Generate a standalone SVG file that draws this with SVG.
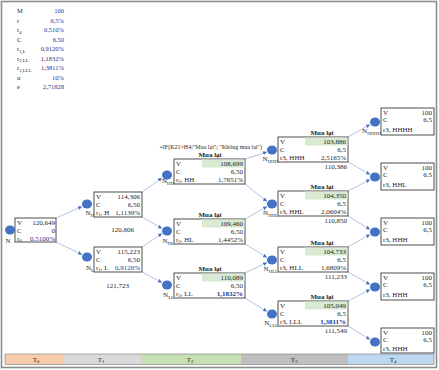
<svg xmlns="http://www.w3.org/2000/svg" width="439" height="370" viewBox="0 0 439 370">
<style>
.bg{fill:#fff}
.fr{fill:none;stroke:#8c8c8c;stroke-width:1.6}
.b{fill:#fff;stroke:#3a3a3a;stroke-width:0.9}
.t{font-family:"Liberation Serif","Times New Roman",serif;font-size:7px;fill:#1f1f1f}
.p{font-size:6.5px}
.e{text-anchor:end}
.m{text-anchor:middle}
.bl{fill:#2e3192}
.bd{font-weight:bold}
.hl{fill:#d9ead3}
.nd{fill:#4472c4}
.cn{stroke:#9fb5da;stroke-width:0.8;fill:none;marker-end:url(#ah)}
.sb{font-size:4.8px}
</style>
<defs>
<marker id="ah" markerWidth="5" markerHeight="5" refX="4" refY="2" orient="auto" markerUnits="userSpaceOnUse">
<path d="M0,0 L4,2 L0,4 Z" fill="#4472c4"/>
</marker>
</defs>
<rect class="bg" x="0" y="0" width="439" height="370"/>
<rect class="fr" x="1.5" y="1.5" width="435" height="366"/>

<g id="params" class="t p">
<text x="17" y="13">M</text><text class="e bl" x="64" y="13">100</text>
<text x="17" y="22.5">r</text><text class="e bl" x="64" y="22.5">6,5%</text>
<text x="17" y="32">r<tspan class="sb" dy="1.5">0</tspan></text><text class="e bl" x="64" y="32">0,510%</text>
<text x="17" y="41.5">C</text><text class="e bl" x="64" y="41.5">6,50</text>
<text x="17" y="51">r<tspan class="sb" dy="1.5">1,L</tspan></text><text class="e bl" x="64" y="51">0,9120%</text>
<text x="17" y="60.5">r<tspan class="sb" dy="1.5">2,LL</tspan></text><text class="e bl" x="64" y="60.5">1,1832%</text>
<text x="17" y="70">r<tspan class="sb" dy="1.5">3,LLL</tspan></text><text class="e bl" x="64" y="70">1,3811%</text>
<text x="17" y="79.5">α</text><text class="e bl" x="64" y="79.5">10%</text>
<text x="17" y="89">e</text><text class="e bl" x="64" y="89">2,71828</text>
</g>

<g id="connectors">
<line class="cn" x1="56" y1="218" x2="82" y2="206.5"/>
<line class="cn" x1="56" y1="242" x2="82" y2="254.5"/>
<line class="cn" x1="142" y1="192" x2="162" y2="178"/>
<line class="cn" x1="142" y1="217" x2="162" y2="228.5"/>
<line class="cn" x1="142" y1="247" x2="162" y2="233.5"/>
<line class="cn" x1="142" y1="272" x2="162" y2="282.5"/>
<line class="cn" x1="245" y1="159" x2="267" y2="152"/>
<line class="cn" x1="245" y1="184" x2="267" y2="201.5"/>
<line class="cn" x1="245" y1="219" x2="267" y2="206.5"/>
<line class="cn" x1="245" y1="244" x2="267" y2="257.5"/>
<line class="cn" x1="245" y1="273" x2="267" y2="262.5"/>
<line class="cn" x1="245" y1="298" x2="267" y2="311.5"/>
<line class="cn" x1="348" y1="137" x2="370" y2="124.5"/>
<line class="cn" x1="348" y1="162" x2="370" y2="174.5"/>
<line class="cn" x1="348" y1="191" x2="370" y2="179.5"/>
<line class="cn" x1="348" y1="216" x2="370" y2="229.5"/>
<line class="cn" x1="348" y1="247" x2="370" y2="234.5"/>
<line class="cn" x1="348" y1="272" x2="370" y2="284.5"/>
<line class="cn" x1="348" y1="301" x2="370" y2="289.5"/>
<line class="cn" x1="348" y1="326" x2="370" y2="339.5"/>
</g>

<g id="n0" class="t">
<rect class="b" x="15" y="218" width="41" height="24"/>
<text x="17" y="224.5">V</text><text class="e" x="55" y="224.5">120,649</text>
<text x="17" y="232.5">C</text><text class="e" x="55" y="232.5">0</text>
<text x="17" y="240.5">r<tspan class="sb" dy="1.5">0</tspan></text><text class="e bl" x="55" y="240.5">0,5100%</text>
<ellipse class="nd" cx="10" cy="230" rx="5" ry="4.5"/>
<text class="m" x="8" y="243">N</text>
</g>

<g id="nH" class="t">
<rect class="b" x="94" y="192" width="48" height="25"/>
<text x="96" y="198.5">V</text><text class="e" x="140" y="198.5">114,306</text>
<text x="96" y="206.5">C</text><text class="e" x="140" y="206.5">6,50</text>
<text x="96" y="214.5">r<tspan class="sb" dy="1.5">1</tspan><tspan dy="-1.5">, H</tspan></text><text class="e" x="140" y="214.5">1,1139%</text>
<ellipse class="nd" cx="87" cy="204" rx="5" ry="4.5"/>
<text class="e" x="94" y="215">N<tspan class="sb" dy="1.5">H</tspan></text>
<text class="e" x="134" y="232">120,806</text>
</g>

<g id="nL" class="t">
<rect class="b" x="94" y="247" width="48" height="25"/>
<text x="96" y="253.5">V</text><text class="e" x="140" y="253.5">115,223</text>
<text x="96" y="261.5">C</text><text class="e" x="140" y="261.5">6,50</text>
<text x="96" y="269.5">r<tspan class="sb" dy="1.5">1</tspan><tspan dy="-1.5">, L</tspan></text><text class="e bl" x="140" y="269.5">0,9120%</text>
<ellipse class="nd" cx="87" cy="257" rx="5" ry="4.5"/>
<text class="e" x="94" y="270">N<tspan class="sb" dy="1.5">L</tspan></text>
<text class="e" x="129" y="288">121,723</text>
</g>

<g id="nHH" class="t">
<text x="262" y="149" class="e" style="font-size:6px">=IF(K21&gt;H4;"Mua lại"; "Không mua lại")</text>
<text class="m bd" x="210" y="156.5">Mua lại</text>
<rect class="b" x="174" y="159" width="71" height="25"/>
<rect class="hl" x="202" y="159.5" width="42.5" height="8"/>
<text x="176" y="165.5">V</text><text class="e" x="243" y="165.5">108,699</text>
<text x="176" y="173.5">C</text><text class="e" x="243" y="173.5">6,50</text>
<text x="176" y="181.5">r<tspan class="sb" dy="1.5">2</tspan><tspan dy="-1.5">, HH</tspan></text><text class="e" x="243" y="181.5">1,7651%</text>
<ellipse class="nd" cx="167" cy="175" rx="5" ry="4.5"/>
<text class="e" x="174" y="183">N<tspan class="sb" dy="1.5">HH</tspan></text>
</g>

<g id="nHL" class="t">
<text class="m bd" x="210" y="216.5">Mua lại</text>
<rect class="b" x="174" y="219" width="71" height="25"/>
<rect class="hl" x="202" y="219.5" width="42.5" height="8"/>
<text x="176" y="225.5">V</text><text class="e" x="243" y="225.5">109,460</text>
<text x="176" y="233.5">C</text><text class="e" x="243" y="233.5">6,50</text>
<text x="176" y="241.5">r<tspan class="sb" dy="1.5">2</tspan><tspan dy="-1.5">, HL</tspan></text><text class="e" x="243" y="241.5">1,4452%</text>
<ellipse class="nd" cx="167" cy="231" rx="5" ry="4.5"/>
<text class="e" x="174" y="243">N<tspan class="sb" dy="1.5">HL</tspan></text>
</g>

<g id="nLL" class="t">
<text class="m bd" x="210" y="270.5">Mua lại</text>
<rect class="b" x="174" y="273" width="71" height="25"/>
<rect class="hl" x="202" y="273.5" width="42.5" height="8"/>
<text x="176" y="279.5">V</text><text class="e" x="243" y="279.5">110,089</text>
<text x="176" y="287.5">C</text><text class="e" x="243" y="287.5">6,50</text>
<text x="176" y="295.5">r<tspan class="sb" dy="1.5">2</tspan><tspan dy="-1.5">, LL</tspan></text><text class="e bl bd" x="243" y="295.5">1,1832%</text>
<ellipse class="nd" cx="167" cy="285" rx="5" ry="4.5"/>
<text class="e" x="174" y="297">N<tspan class="sb" dy="1.5">LL</tspan></text>
</g>

<g id="nHHH" class="t">
<text class="m bd" x="322" y="134.5">Mua lại</text>
<rect class="b" x="278" y="137" width="70" height="25"/>
<rect class="hl" x="305" y="137.5" width="42.5" height="8"/>
<text x="280" y="143.5">V</text><text class="e" x="346" y="143.5">103,886</text>
<text x="280" y="151.5">C</text><text class="e" x="346" y="151.5">6,5</text>
<text x="280" y="159.5">r3, HHH</text><text class="e" x="346" y="159.5">2,5165%</text>
<ellipse class="nd" cx="272" cy="150" rx="5" ry="4.5"/>
<text class="e" x="278" y="161">N<tspan class="sb" dy="1.5">HHH</tspan></text>
<text class="e" x="347" y="169">110,386</text>
</g>

<g id="nHHL" class="t">
<text class="m bd" x="322" y="188.5">Mua lại</text>
<rect class="b" x="278" y="191" width="70" height="25"/>
<rect class="hl" x="305" y="191.5" width="42.5" height="8"/>
<text x="280" y="197.5">V</text><text class="e" x="346" y="197.5">104,350</text>
<text x="280" y="205.5">C</text><text class="e" x="346" y="205.5">6,5</text>
<text x="280" y="213.5">r3, HHL</text><text class="e" x="346" y="213.5">2,0604%</text>
<ellipse class="nd" cx="272" cy="204" rx="5" ry="4.5"/>
<text class="e" x="278" y="215">N<tspan class="sb" dy="1.5">HHL</tspan></text>
<text class="e" x="347" y="223">110,850</text>
</g>

<g id="nHLL" class="t">
<text class="m bd" x="322" y="244.5">Mua lại</text>
<rect class="b" x="278" y="247" width="70" height="25"/>
<rect class="hl" x="305" y="247.5" width="42.5" height="8"/>
<text x="280" y="253.5">V</text><text class="e" x="346" y="253.5">104,733</text>
<text x="280" y="261.5">C</text><text class="e" x="346" y="261.5">6,5</text>
<text x="280" y="269.5">r3, HLL</text><text class="e" x="346" y="269.5">1,6809%</text>
<ellipse class="nd" cx="272" cy="260" rx="5" ry="4.5"/>
<text class="e" x="278" y="271">N<tspan class="sb" dy="1.5">HLL</tspan></text>
<text class="e" x="347" y="279">111,233</text>
</g>

<g id="nLLL" class="t">
<text class="m bd" x="322" y="298.5">Mua lại</text>
<rect class="b" x="278" y="301" width="70" height="25"/>
<rect class="hl" x="305" y="301.5" width="42.5" height="8"/>
<text x="280" y="307.5">V</text><text class="e" x="346" y="307.5">105,049</text>
<text x="280" y="315.5">C</text><text class="e" x="346" y="315.5">6,5</text>
<text x="280" y="323.5">r3, LLL</text><text class="e bl bd" x="346" y="323.5">1,3811%</text>
<ellipse class="nd" cx="272" cy="314" rx="5" ry="4.5"/>
<text class="e" x="278" y="325">N<tspan class="sb" dy="1.5">LLL</tspan></text>
<text class="e" x="347" y="333">111,549</text>
</g>

<g id="nHHHH" class="t">
<rect class="b" x="381" y="108" width="53" height="27"/>
<text x="383" y="114.5">V</text><text class="e" x="432" y="114.5">100</text>
<text x="383" y="121.5">C</text><text class="e" x="432" y="121.5">6,5</text>
<text x="383" y="132">r3, HHHH</text>
<ellipse class="nd" cx="375" cy="122" rx="5" ry="4.5"/>
<text class="e" x="381" y="133">N<tspan class="sb" dy="1.5">HHHH</tspan></text>
</g>

<g id="nT4b" class="t">
<rect class="b" x="381" y="163" width="53" height="27"/>
<text x="383" y="169.5">V</text><text class="e" x="432" y="169.5">100</text>
<text x="383" y="176.5">C</text><text class="e" x="432" y="176.5">6,5</text>
<text x="383" y="187">r3, HHL</text>
<ellipse class="nd" cx="375" cy="177" rx="5" ry="4.5"/>
</g>

<g id="nT4c" class="t">
<rect class="b" x="381" y="218" width="53" height="27"/>
<text x="383" y="224.5">V</text><text class="e" x="432" y="224.5">100</text>
<text x="383" y="231.5">C</text><text class="e" x="432" y="231.5">6,5</text>
<text x="383" y="242">r3, HHH</text>
<ellipse class="nd" cx="375" cy="232" rx="5" ry="4.5"/>
</g>

<g id="nT4d" class="t">
<rect class="b" x="381" y="273" width="53" height="27"/>
<text x="383" y="279.5">V</text><text class="e" x="432" y="279.5">100</text>
<text x="383" y="286.5">C</text><text class="e" x="432" y="286.5">6,5</text>
<text x="383" y="297">r3, HHH</text>
<ellipse class="nd" cx="375" cy="287" rx="5" ry="4.5"/>
</g>

<g id="nT4e" class="t">
<rect class="b" x="381" y="328" width="53" height="25"/>
<text x="383" y="334.5">V</text><text class="e" x="432" y="334.5">100</text>
<text x="383" y="341.5">C</text><text class="e" x="432" y="341.5">6,5</text>
<text x="383" y="350.5">r3, HHH</text>
<ellipse class="nd" cx="375" cy="342" rx="5" ry="4.5"/>
</g>

<g id="timeline" class="t">
<rect x="5" y="354" width="59" height="10.5" fill="#f8cbad"/>
<rect x="64" y="354" width="77" height="10.5" fill="#d9d9d9"/>
<rect x="141" y="354" width="100" height="10.5" fill="#c6e0b4"/>
<rect x="241" y="354" width="107" height="10.5" fill="#bfbfbf"/>
<rect x="348" y="354" width="86" height="10.5" fill="#bdd7ee"/>
<rect x="5" y="354" width="429" height="10.5" fill="none" stroke="#7a7a7a" stroke-width="0.6"/>
<text class="m" x="36" y="361.5">T<tspan class="sb" dy="1.2">0</tspan></text>
<text class="m" x="101" y="361.5">T<tspan class="sb" dy="1.2">1</tspan></text>
<text class="m" x="190" y="361.5">T<tspan class="sb" dy="1.2">2</tspan></text>
<text class="m" x="294" y="361.5">T<tspan class="sb" dy="1.2">3</tspan></text>
<text class="m" x="393" y="361.5">T<tspan class="sb" dy="1.2">4</tspan></text>
</g>
</svg>
